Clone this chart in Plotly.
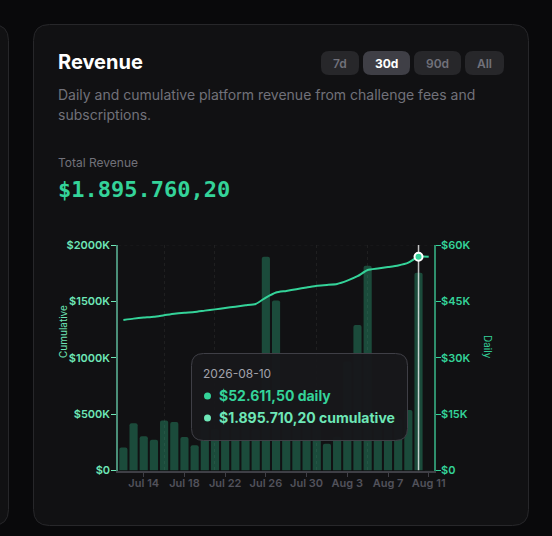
import plotly.graph_objects as go

W, H = 552, 536

# ---- data ----
dates = ["2026-07-12","2026-07-13","2026-07-14","2026-07-15","2026-07-16","2026-07-17","2026-07-18","2026-07-19",
         "2026-07-20","2026-07-21","2026-07-22","2026-07-23","2026-07-24","2026-07-25","2026-07-26","2026-07-27",
         "2026-07-28","2026-07-29","2026-07-30","2026-07-31","2026-08-01","2026-08-02","2026-08-03","2026-08-04",
         "2026-08-05","2026-08-06","2026-08-07","2026-08-08","2026-08-09","2026-08-10","2026-08-11"]
daily = [6100,12600,9100,8200,13300,12900,8900,6700,
         12500,11000,12800,11500,12200,11000,56900,45200,
         13000,15800,15200,15700,7100,9000,29000,38700,
         54500,13500,12800,13700,16100,52611.5,50]
cumulative = [1335000,1347000,1356000,1364000,1377000,1390000,1399000,1406000,
              1418000,1429000,1442000,1453000,1465000,1477000,1534000,1579000,
              1592000,1608000,1623000,1639000,1646000,1655000,1684000,1723000,
              1778000,1791000,1804000,1818000,1843100,1895710.2,1895760.2]
left_vals = [0,500000,1000000,1500000,2000000]
left_text = ["$0","$500K","$1000K","$1500K","$2000K"]
right_vals = [0,15000,30000,45000,60000]
right_text = ["$0","$15K","$30K","$45K","$60K"]
hover_date = "2026-08-10"
hover_cum = 1895710.2
buttons = [("7d",321,359,False),("30d",363,410,True),("90d",414,461,False),("All",465,504,False)]

BG="#09090b"; CARD="#111113"; BORDER="#27272a"
G1="#34d399"; G2="#6ee7b7"
GRID="rgba(255,255,255,0.06)"

def X(p): return p/W
def Y(p): return 1-p/H

def rrect(x0,y0,x1,y1,r):
    a,b,c,d=X(x0),Y(y0),X(x1),Y(y1)
    rx,ry=r/W,r/H
    return (f"M{a+rx},{b} L{c-rx},{b} Q{c},{b} {c},{b-ry} L{c},{d+ry} Q{c},{d} {c-rx},{d} "
            f"L{a+rx},{d} Q{a},{d} {a},{d+ry} L{a},{b-ry} Q{a},{b} {a+rx},{b} Z")

shapes=[]
def panel(x0,y0,x1,y1,r,fill,line=None,layer="below"):
    shapes.append(dict(type="path",xref="paper",yref="paper",path=rrect(x0,y0,x1,y1,r),
                       fillcolor=fill,line=dict(color=line or fill,width=1 if line else 0),layer=layer))
panel(-40,24.5,8.5,525.5,16,CARD,BORDER)
panel(33.5,24.5,528.5,525.5,16,CARD,BORDER)
for lab,x0,x1,act in buttons:
    panel(x0,51,x1,75,8,"#3f3f46" if act else "#27272a")
# dashed top gridline
shapes.append(dict(type="line",xref="paper",yref="y2",x0=X(118.3),x1=X(433.8),y0=left_vals[-1],y1=left_vals[-1],
                   line=dict(color=GRID,width=1,dash="3px,3px"),layer="below"))
# tooltip
panel(191.5,353.5,407.5,440.5,12,"rgba(24,24,27,0.97)","#3f3f46","above")
for cy,c in ((396,G1),(418,G2)):
    shapes.append(dict(type="circle",xref="paper",yref="paper",layer="above",
                       x0=X(204),x1=X(211),y0=Y(cy+3.5),y1=Y(cy-3.5),fillcolor=c,line=dict(width=0)))

ann=[]
def text(x,y,s,size,color,weight=400,family="Inter",anchor="left",angle=0):
    ann.append(dict(xref="paper",yref="paper",x=X(x),y=Y(y),text=s,showarrow=False,xanchor=anchor,yanchor="middle",
                    textangle=angle,borderpad=0,font=dict(size=size,color=color,family=family,weight=weight)))
text(57,62,"Revenue",20,"#ffffff",700)
text(57,94,"Daily and cumulative platform revenue from challenge fees and",14,"#71717a")
text(57,114,"subscriptions.",14,"#71717a")
text(57,162,"Total Revenue",12,"#71717a")
text(57,189,"$1.895.760,20",22,G1,700,"DejaVu Sans Mono")
for lab,x0,x1,act in buttons:
    text((x0+x1)/2,63.5,lab,12,"#ffffff" if act else "#71717a",700 if act else 600,anchor="center")
text(202,373,"2026-08-10",12,"#a1a1aa")
text(218,395,"$52.611,50 daily",14,G1,700)
text(218,417,"$1.895.710,20 cumulative",14,G2,700)
text(63,331,"Cumulative",10,G2,400,anchor="center",angle=-90)
text(488,347,"Daily",10,G1,400,anchor="center",angle=90)

fig=go.Figure()
fig.add_trace(go.Bar(x=dates,y=daily,yaxis="y",marker=dict(color="rgba(52,211,153,0.3)",cornerradius=2,line=dict(width=0)),hoverinfo="skip"))
fig.add_trace(go.Scatter(x=dates,y=cumulative,yaxis="y2",mode="lines",line=dict(color=G1,width=2,shape="spline",smoothing=0.5),hoverinfo="skip"))
fig.add_trace(go.Scatter(x=[hover_date,hover_date],y=[left_vals[0],left_vals[-1]],yaxis="y2",mode="lines",
                         line=dict(color="rgba(255,255,255,0.75)",width=1.5),hoverinfo="skip"))
fig.add_trace(go.Scatter(x=[hover_date],y=[hover_cum],yaxis="y2",mode="markers",
                         marker=dict(size=8,color=G1,line=dict(color="#ffffff",width=2)),hoverinfo="skip"))

tickfont=dict(size=11,family="Inter",weight=600)
fig.update_layout(
    width=W,height=H,autosize=False,margin=dict(l=0,r=0,t=0,b=0,pad=0,autoexpand=False),
    paper_bgcolor=BG,plot_bgcolor="rgba(0,0,0,0)",showlegend=False,bargap=0.2,
    xaxis=dict(domain=[X(118.3),X(433.8)],type="date",range=["2026-07-11 12:00","2026-08-11 12:00"],
               tick0="2026-07-14",dtick=4*86400000,tickformat="%b %-d",ticks="outside",ticklen=5,tickcolor="#3f3f46",
               tickfont=dict(size=11,family="Inter",weight=600,color="#52525b"),ticklabelstandoff=-3,
               showline=True,linecolor="#3f3f46",linewidth=1.5,showgrid=False,zeroline=False,
               minor=dict(tick0="2026-07-16",dtick=5*86400000,showgrid=True,gridcolor=GRID,griddash="3px,3px",ticks="")),
    yaxis=dict(domain=[Y(470.5),Y(245)],range=[0,60000],side="right",anchor="x",tickvals=right_vals,ticktext=right_text,
               ticks="outside",ticklen=5,tickcolor=G1,tickfont={**tickfont,"color":G1},ticklabelstandoff=-2,
               showline=True,linecolor="#2e8f6c",linewidth=2,showgrid=False,zeroline=False),
    yaxis2=dict(domain=[Y(470.5),Y(245)],range=[0,2000000],side="left",anchor="x",overlaying="y",tickvals=left_vals,ticktext=left_text,
                ticks="outside",ticklen=5,tickcolor=G2,tickfont={**tickfont,"color":G2},ticklabelstandoff=-1,
                showline=True,linecolor="#4a8f78",linewidth=2,showgrid=False,zeroline=False),
    shapes=shapes,annotations=ann,
)
fig.write_html("out.html",config={"displayModeBar":False,"responsive":False},default_width="552px",default_height="536px",
               post_script="document.body.style.margin='0';document.body.style.background='#09090b';document.documentElement.style.overflow='hidden';")
